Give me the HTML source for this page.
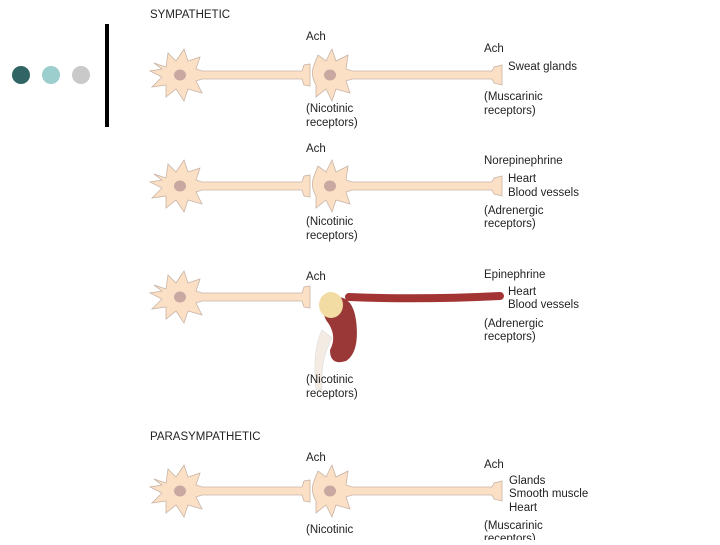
<!DOCTYPE html>
<html><head><style>
body{margin:0;background:#fff;}
svg text{font-family:"Liberation Sans",sans-serif;font-size:11.5px;fill:#222;}
</style></head><body>
<svg width="720" height="540" viewBox="0 0 720 540" xmlns="http://www.w3.org/2000/svg">
<defs>
<g id="n1">
 <path d="M-26,-12 L-14,-8 L-12,-22 L-4,-14 L4,-26 L8,-14 L20,-18 L16,-6 L22,-4 L122,-4 L124,-10 L130,-11 L130,11 L124,10 L122,4 L22,4 L16,6 L22,18 L8,14 L4,26 L-4,14 L-14,22 L-14,10 L-28,12 L-18,2 L-30,-4 L-18,-6 Z" fill="#fce0c6" stroke="#c8b4a6" stroke-width="0.8"/>
 <ellipse cx="0" cy="0" rx="6" ry="5.5" fill="#c9a8a2"/>
</g>
<g id="n2">
 <path d="M-16,-10 L-12,-20 L-4,-14 L2,-26 L6,-14 L18,-20 L16,-6 L22,-4 L162,-4 L164,-8 L172,-10 L172,10 L164,8 L162,4 L22,4 L16,6 L20,18 L6,14 L2,26 L-4,14 L-14,22 L-14,10 Q-20,0 -16,-10 Z" fill="#fce0c6" stroke="#c8b4a6" stroke-width="0.8"/>
 <ellipse cx="0" cy="0" rx="6" ry="5.5" fill="#c9a8a2"/>
</g>
</defs>
<circle cx="21" cy="75" r="9" fill="#316565"/>
<circle cx="51" cy="75" r="9" fill="#9ccece"/>
<circle cx="81" cy="75" r="9" fill="#c9c9c9"/>
<rect x="105" y="24" width="4" height="103" fill="#000"/>

<text x="150" y="18">SYMPATHETIC</text>
<use href="#n1" x="180" y="75"/><use href="#n2" x="330" y="75"/>
<text x="306" y="40">Ach</text><text x="484" y="52">Ach</text><text x="508" y="70">Sweat glands</text>
<text x="306" y="112">(Nicotinic</text><text x="306" y="126">receptors)</text>
<text x="484" y="100">(Muscarinic</text><text x="484" y="114">receptors)</text>

<use href="#n1" x="180" y="186"/><use href="#n2" x="330" y="186"/>
<text x="306" y="152">Ach</text><text x="484" y="164">Norepinephrine</text>
<text x="508" y="182">Heart</text><text x="508" y="196">Blood vessels</text>
<text x="306" y="225">(Nicotinic</text><text x="306" y="239">receptors)</text>
<text x="484" y="214">(Adrenergic</text><text x="484" y="227">receptors)</text>

<use href="#n1" x="180" y="297"/>
<path d="M322,330 Q312,350 316,390 L322,390 Q320,360 332,338 Z" fill="#f4ebe2" stroke="#ddd" stroke-width="0.6"/>
<path d="M330,298 Q352,292 356,320 Q360,352 346,361 Q330,366 330,350 Q338,335 326,320 Q318,304 330,298 Z" fill="#9a3838"/>
<ellipse cx="331" cy="305" rx="12" ry="13" fill="#f2dca4"/>
<path d="M349,297 Q420,300 500,296" stroke="#a23434" stroke-width="8" fill="none" stroke-linecap="round"/>
<text x="306" y="280">Ach</text><text x="484" y="278">Epinephrine</text>
<text x="508" y="295">Heart</text><text x="508" y="308">Blood vessels</text>
<text x="306" y="383">(Nicotinic</text><text x="306" y="397">receptors)</text>
<text x="484" y="327">(Adrenergic</text><text x="484" y="340">receptors)</text>

<text x="150" y="440">PARASYMPATHETIC</text>
<use href="#n1" x="180" y="491"/><use href="#n2" x="330" y="491"/>
<text x="306" y="461">Ach</text><text x="484" y="468">Ach</text>
<text x="509" y="484">Glands</text><text x="509" y="497">Smooth muscle</text><text x="509" y="511">Heart</text>
<text x="306" y="533">(Nicotinic</text>
<text x="484" y="529">(Muscarinic</text><text x="484" y="542">receptors)</text>
</svg>
</body></html>
